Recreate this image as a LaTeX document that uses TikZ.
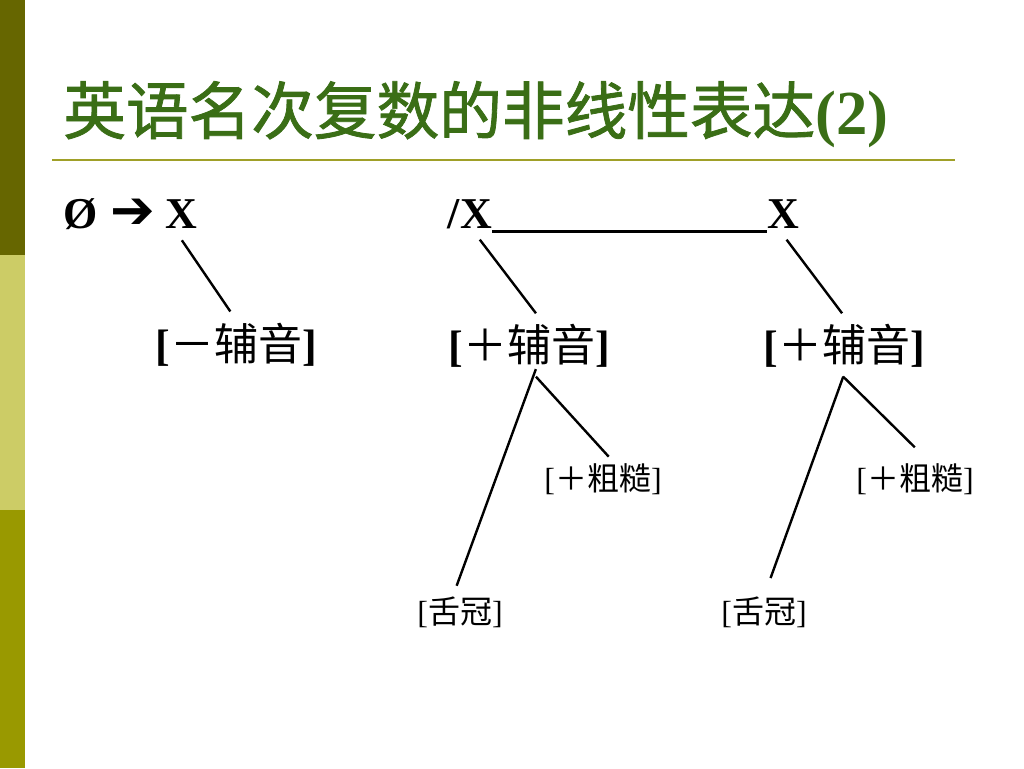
\documentclass[tikz,border=0pt]{standalone}
\usepackage{fontspec}
\setmainfont{Liberation Serif}
\newfontfamily\cjk{Noto Sans CJK SC}
\newfontfamily\cjktitle{Noto Sans CJK SC}[FakeBold=1.3]
\newfontfamily\arrowfont{DejaVu Sans}
\definecolor{bartop}{RGB}{102,102,0}
\definecolor{barmid}{RGB}{204,204,102}
\definecolor{barlow}{RGB}{153,153,0}
\definecolor{titlegreen}{RGB}{58,110,22}
\definecolor{rulecol}{RGB}{160,160,40}

\begin{document}
\begin{tikzpicture}[x=0.75pt,y=-0.75pt]
        \tikzstyle{big}=[inner sep=0pt,font=\fontsize{33}{36}\selectfont\bfseries]
        \tikzstyle{feat}=[inner sep=0pt,font=\fontsize{33}{36}\selectfont]
        \tikzstyle{small}=[inner sep=0pt,font=\fontsize{24}{26}\selectfont]
        \tikzstyle{branch}=[line width=1.8pt]
        \useasboundingbox (0,0) rectangle (1024,768);
        % side bar
        \fill [bartop] (0,0) rectangle (25,255);
        \fill [barmid] (0,255) rectangle (25,510);
        \fill [barlow] (0,510) rectangle (25,768);
        \node [anchor=base west,inner sep=0pt,text=titlegreen,font=\fontsize{47}{50}\selectfont] (title) at (63,134) {{\cjktitle 英语名次复数的非线性表达}\textbf{(2)}};
        \draw [rulecol,line width=1.5pt] (52,160) -- (955,160);
        % first row
        \node [big,anchor=base west] (empty) at (63,228) {Ø};
        \node [big,anchor=base west,font=\fontsize{40}{40}\selectfont\bfseries] (arr) at (110,228) {\arrowfont ➔};
        \node [big,anchor=base west] (x0) at (165,228) {X};
        \node [big,anchor=base west] (slash) at (447,228) {/};
        \node [big,anchor=base west] (xa) at (slash.base east) {X};
        \node [big,anchor=base west] (xb) at (767,228) {X};
        \draw [line width=1.8pt] ([yshift=-2.5pt]xa.base east) -- ([yshift=-2.5pt]xb.base west);
        % features
        \node [feat] (neg) at (236,345) {\textbf{[}{\cjk －辅音}\textbf{]}};
        \node [feat] (cons1) at (529,346) {\textbf{[}{\cjk ＋辅音}\textbf{]}};
        \node [feat] (cons2) at (844,346) {\textbf{[}{\cjk ＋辅音}\textbf{]}};
        \node [small] (rough1) at (603,479) {[{\cjk ＋粗糙}]};
        \node [small] (rough2) at (915,479) {[{\cjk ＋粗糙}]};
        \node [small] (cor1) at (460,612) {[{\cjk 舌冠}]};
        \node [small] (cor2) at (764,612) {[{\cjk 舌冠}]};
        % branches
        \draw [branch,shorten <=10.9pt,shorten >=10.6pt] ([xshift=-5.6pt]x0.south) -- ([xshift=1.7pt]neg.north);
        \draw [branch,shorten <=10.7pt,shorten >=10.2pt] ([xshift=-3.6pt]xa.south) -- ([xshift=11.4pt]cons1.north);
        \draw [branch,shorten <=10.7pt,shorten >=10.2pt] ([xshift=-3.9pt]xb.south) -- ([xshift=4.7pt]cons2.north);
        \draw [branch,shorten <=8.9pt,shorten >=6.6pt] ([xshift=-0.8pt]cons1.south) -- ([xshift=8.7pt]rough1.north);
        \draw [branch,shorten <=1pt,shorten >=8.4pt] ([xshift=5.5pt]cons1.south) -- ([xshift=-5.4pt]cor1.north);
        \draw [branch,shorten <=9.3pt,shorten >=16.9pt] ([xshift=-7.3pt]cons2.south) -- ([xshift=11.9pt]rough2.north);
        \draw [branch,shorten <=7pt,shorten >=14.5pt] ([xshift=1.8pt]cons2.south) -- (cor2.north);
\end{tikzpicture}
\end{document}
